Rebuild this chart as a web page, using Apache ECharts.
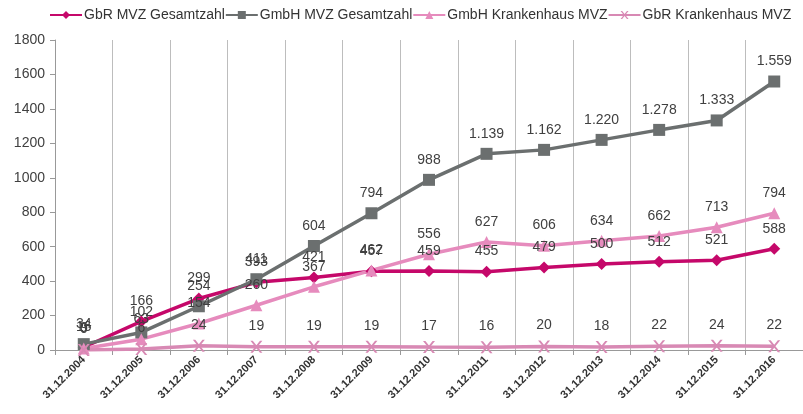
<!DOCTYPE html>
<html>
<head>
<meta charset="utf-8">
<script src="https://cdn.jsdelivr.net/npm/echarts@6/dist/echarts.min.js"></script>
<style>
  html, body { margin: 0; padding: 0; background: #fff; }
  #chart { width: 803px; height: 414px; }
</style>
</head>
<body>
<div id="chart"></div>
<script>
var categories = ['31.12.2004', '31.12.2005', '31.12.2006', '31.12.2007', '31.12.2008', '31.12.2009', '31.12.2010',
  '31.12.2011', '31.12.2012', '31.12.2013', '31.12.2014', '31.12.2015', '31.12.2016']
var gbrMvz = [16, 166, 299, 393, 421, 457, 459, 455, 479, 500, 512, 521, 588]
var gmbhMvz = [34, 102, 254, 411, 604, 794, 988, 1139, 1162, 1220, 1278, 1333, 1559]
var gmbhKh = [9, 63, 154, 260, 367, 462, 556, 627, 606, 634, 662, 713, 794]
var gbrKh = [0, 6, 24, 19, 19, 19, 17, 16, 20, 18, 22, 24, 22]

// deutsche Tausenderpunkte
function fmt (p) {
  var v = p.value
  return v >= 1000 ? Math.floor(v / 1000) + '.' + String(v % 1000).padStart(3, '0') : String(v)
}

var labelStyle = {
  show: true,
  position: 'top',
  formatter: fmt,
  fontSize: 14,
  color: '#404040',
  fontFamily: 'Liberation Sans'
}

function line (name, data, color, symbol, size, labelDist) {
  return {
    name: name,
    type: 'line',
    data: data,
    symbol: symbol,
    symbolSize: size,
    itemStyle: { color: color },
    lineStyle: { color: color, width: 3.5 },
    label: Object.assign({}, labelStyle, { distance: labelDist }),
    emphasis: { disabled: true },
    animation: false
  }
}

var chart = echarts.init(document.getElementById('chart'))
chart.setOption({
  backgroundColor: '#fff',
  textStyle: { fontFamily: 'Liberation Sans' },
  legend: {
    top: 3,
    left: 44,
    itemWidth: 32,
    itemHeight: 10,
    itemGap: 0,
    textStyle: { fontSize: 14, color: '#333', fontFamily: 'Liberation Sans', padding: [0, 0, 0, -3] },
    data: ['GbR MVZ Gesamtzahl', 'GmbH MVZ Gesamtzahl', 'GmbH Krankenhaus MVZ', 'GbR Krankenhaus MVZ']
  },
  grid: { left: 55, top: 40, width: 757, height: 310, containLabel: false },
  xAxis: {
    type: 'category',
    data: categories,
    boundaryGap: true,
    axisLine: { lineStyle: { color: '#999', width: 1 } },
    axisTick: { show: true, length: 5, lineStyle: { color: '#999' } },
    splitLine: { show: true, lineStyle: { color: '#bdbdbd', width: 1 } },
    axisLabel: {
      rotate: 45,
      interval: 0,
      fontSize: 11,
      fontWeight: 'bold',
      color: '#333',
      margin: 8
    }
  },
  yAxis: {
    type: 'value',
    min: 0,
    max: 1800,
    interval: 200,
    axisLine: { show: true, lineStyle: { color: '#999' } },
    axisTick: { show: true, length: 5, lineStyle: { color: '#999' } },
    splitLine: { show: false },
    axisLabel: { fontSize: 14, color: '#404040', margin: 10, formatter: function (v) { return String(v) } }
  },
  series: [
    line('GbR MVZ Gesamtzahl', gbrMvz, '#c5086a', 'diamond', 12, 7),
    line('GmbH MVZ Gesamtzahl', gmbhMvz, '#6b6f6f', 'rect', 12, 7),
    line('GmbH Krankenhaus MVZ', gmbhKh, '#e68bbd', 'triangle', 12, 7),
    line('GbR Krankenhaus MVZ', gbrKh, '#d889b4',
      'path://M0,0 L2,0 L5,3 L8,0 L10,0 L6,4 L10,8 L8,8 L5,5 L2,8 L0,8 L4,4 Z', 12, 8)
  ]
})
</script>
</body>
</html>
